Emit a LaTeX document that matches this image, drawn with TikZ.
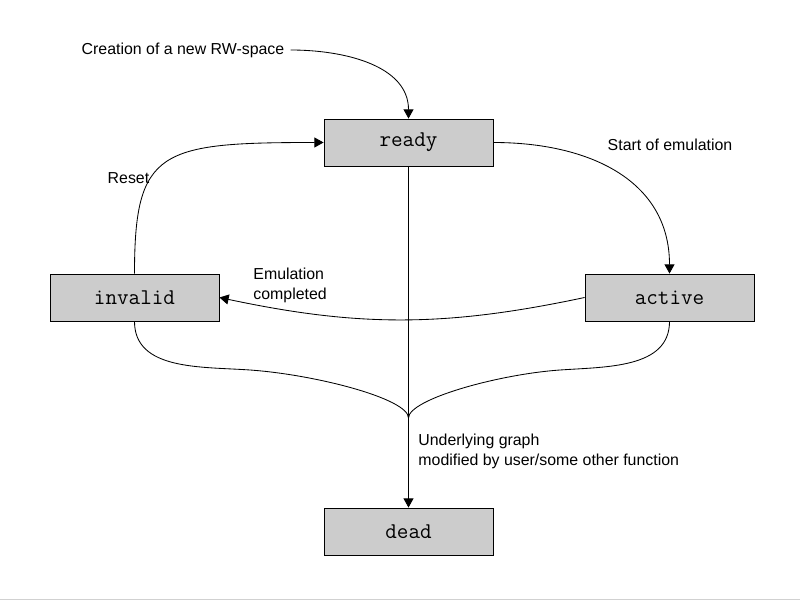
\documentclass[tikz,border=0pt]{standalone}
\usepackage{fontspec}
\setmainfont{Liberation Sans}
\usetikzlibrary{arrows,arrows.meta}
\tikzset{
  state_n/.style = {rectangle, draw=black, fill=black!20, line width=0.6pt,
    minimum width=4.225cm, minimum height=1.175cm, inner sep=0pt,
    font=\ttfamily\fontsize{16}{18}\selectfont},
  lbl_n/.style = {inner sep=0pt, align=left,
    font=\fontsize{11.3}{14.2}\selectfont}}

\begin{document}
\begin{tikzpicture}[x=0.025cm, y=0.025cm, ->,
  >={Triangle[length=2.3mm,width=2.5mm]}, line width=0.6pt]
\useasboundingbox (0,0) rectangle (800,600);
\draw[-, black!18, line width=0.7pt] (0,0.5) -- (800,0.5);

% states
\node [state_n] (ready) at (408.5,457.5) {ready};
\node [state_n] (invalid) at (134.5,302.5) {invalid};
\node [state_n] (active) at (669.5,302.5) {active};
\node [state_n] (dead) at (408.5,68.5) {dead};

% labels
\node [lbl_n] (creation) at (183,550) {Creation of a new RW-space};
\node [lbl_n] (reset) at (128.5,422) {Reset};
\node [lbl_n] (start) at (670,455) {Start of emulation};
\node [lbl_n, anchor=west] (completed) at (253,315) {Emulation\\completed};
\node [lbl_n, anchor=west] (underlying) at (418,148.5)
  {Underlying graph\\modified by user/some other function};

\coordinate (merge) at (408.5,182);
\coordinate (lmid) at (250,230);
\coordinate (rmid) at (560,230);

% transitions
\draw ([xshift=1.5mm]creation.east) to[out=0,in=90] (ready.north);
\draw (invalid.north) .. controls +(0,124) and +(-164,0) .. (ready.west);
\draw (ready.east) to[out=0,in=90,looseness=1.1] (active.north);
\draw (active.west) to[out=192,in=-12] (invalid.east);
\draw (ready.south) -- (dead.north);
\draw[-] (invalid.south) to[out=-90,in=176] (lmid)
  to[out=-4,in=90,in looseness=0.3] (merge);
\draw[-] (active.south) to[out=-90,in=4] (rmid)
  to[out=184,in=90,in looseness=0.3] (merge);
\end{tikzpicture}
\end{document}
